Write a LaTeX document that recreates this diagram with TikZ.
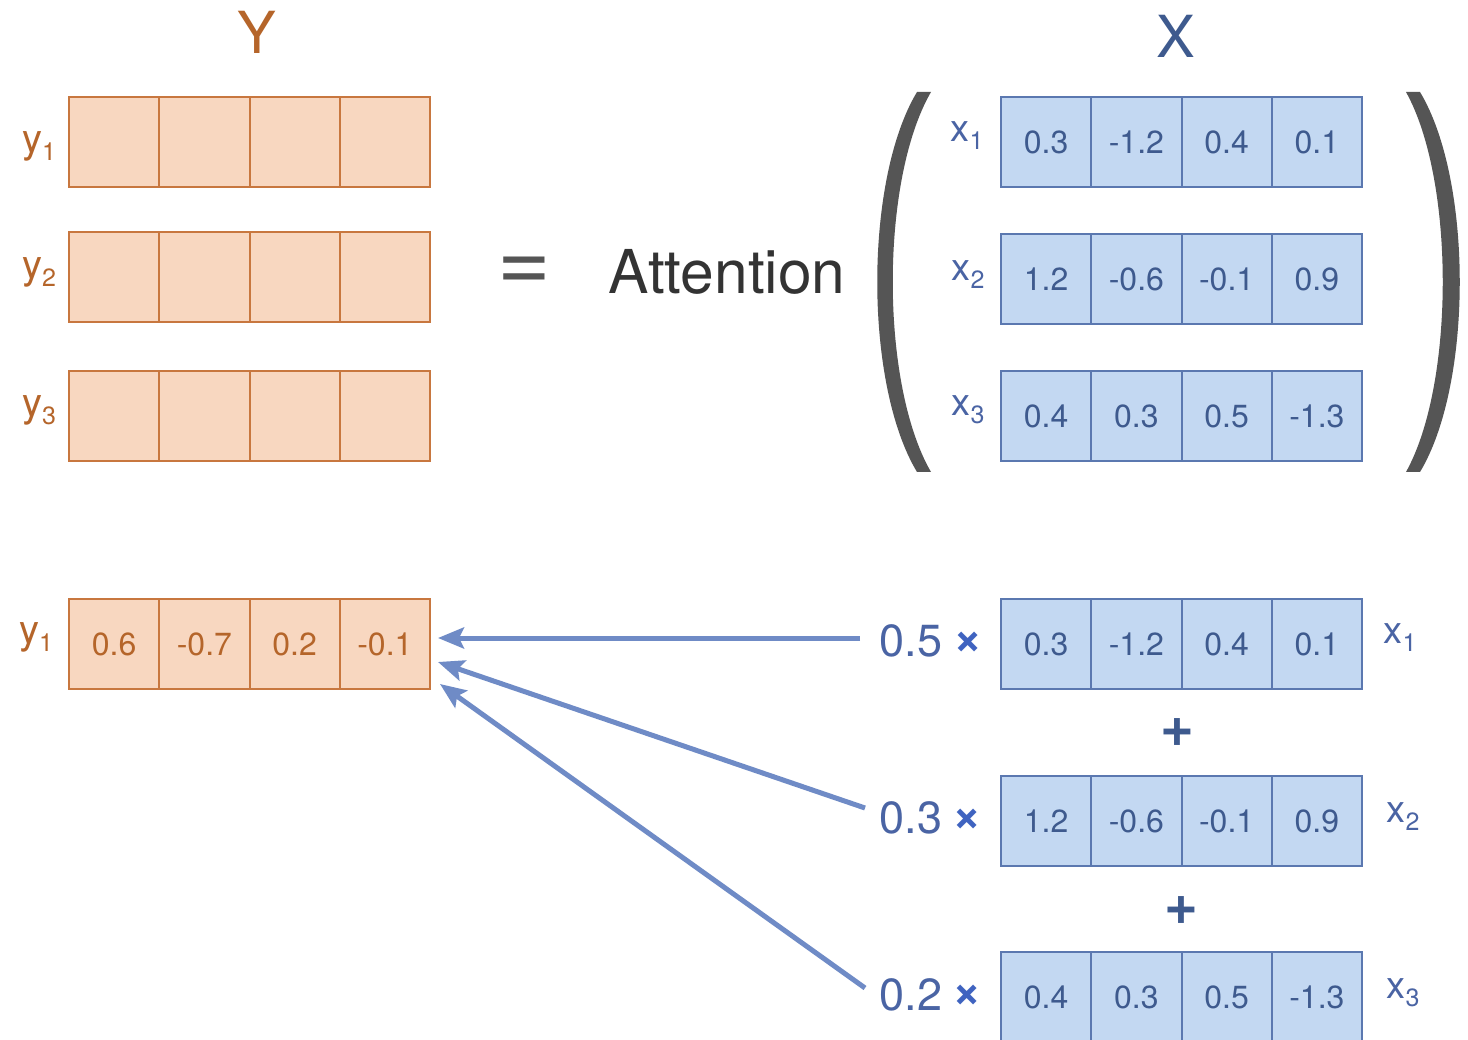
\documentclass[tikz,border=0pt]{standalone}
\usepackage{fontspec}
\setmainfont{TeX Gyre Heros}
\usetikzlibrary{arrows.meta,calc}
\definecolor{ofill}{HTML}{F8D7C0}
\definecolor{oline}{HTML}{C8773F}
\definecolor{otext}{HTML}{B5652A}
\definecolor{bfill}{HTML}{C3D8F2}
\definecolor{bline}{HTML}{5B78B0}
\definecolor{btext}{HTML}{3E5A8E}
\definecolor{blab}{HTML}{4A64A4}
\definecolor{arrowc}{HTML}{6F8BC6}
\definecolor{parc}{HTML}{555555}
\definecolor{timesc}{HTML}{3F63C0}
\newcommand\lsub[1]{\raisebox{-8pt}{\fontsize{25}{25}\selectfont #1}}
\begin{document}
\begin{tikzpicture}[x=1pt,y=-1pt,
  cellbase/.style={line width=2pt,minimum width=90.25pt,minimum height=90pt,inner sep=0pt,anchor=north west,font=\fontsize{32}{36}\selectfont},
  ocell/.style={cellbase,draw=oline,fill=ofill,text=otext},
  bcell/.style={cellbase,draw=bline,fill=bfill,text=btext},
  ylab/.style={text=otext,font=\fontsize{40}{44}\selectfont,inner sep=0pt},
  xlab/.style={text=blab,font=\fontsize{38}{44}\selectfont,inner sep=0pt},
  title/.style={font=\fontsize{58}{60}\selectfont,inner sep=0pt},
  coef/.style={text=blab,font=\fontsize{45}{50}\selectfont,inner sep=0pt},
  timesn/.style={text=timesc,font=\bfseries\fontsize{50}{50}\selectfont,inner sep=0pt},
  plusn/.style={text=btext,font=\bfseries\fontsize{58}{58}\selectfont,inner sep=0pt},
  arr/.style={draw=arrowc,line width=5pt,-{Stealth[length=26pt,width=21pt,inset=5pt]}},
  parfill/.style={fill=parc,draw=none}
]
\useasboundingbox (0,0) rectangle (1468,1040);
\fill[white] (0,0) rectangle (1468,1040);

% titles
\node[title,text=otext] (Yt) at (257,32) {Y};
\node[title,text=btext] (Xt) at (1176,36) {X};

% top Y rows
\foreach \r/\yy in {1/96,2/231,3/370}{
  \foreach \c in {1,...,4}{
    \node[ocell] (yr\r c\c) at ({68+(\c-1)*90.25},\yy) {};
  }
}
\node[ylab] (ly1) at (39,146) {y\lsub{1}};
\node[ylab] (ly2) at (39,272) {y\lsub{2}};
\node[ylab] (ly3) at (39,410) {y\lsub{3}};

% equals and Attention
\node[text=parc,font=\fontsize{92}{92}\selectfont,inner sep=0pt] (eq) at (524,274) {=};
\node[text=black!80,font=\fontsize{60.5}{66}\selectfont,inner sep=0pt] (att) at (727,272) {Attention};

% parentheses
\path[parfill] (917,92) .. controls (864,180) and (864,384) .. (917,472) -- (931,472) .. controls (880,384) and (880,180) .. (931,92) -- cycle;
\path[parfill] (1420,92) .. controls (1473,180) and (1473,384) .. (1420,472) -- (1406,472) .. controls (1455,384) and (1455,180) .. (1406,92) -- cycle;

% top X rows
\foreach \r/\yy/\va/\vb/\vc/\vd in {1/96/0.3/-1.2/0.4/0.1, 2/233/1.2/-0.6/-0.1/0.9, 3/370/0.4/0.3/0.5/-1.3}{
  \node[bcell] (xr\r c1) at (1000,\yy) {\va};
  \node[bcell] (xr\r c2) at (1090.25,\yy) {\vb};
  \node[bcell] (xr\r c3) at (1180.5,\yy) {\vc};
  \node[bcell] (xr\r c4) at (1270.75,\yy) {\vd};
}
\node[xlab] (lx1) at (967,136) {x\lsub{1}};
\node[xlab] (lx2) at (968,275) {x\lsub{2}};
\node[xlab] (lx3) at (968,410) {x\lsub{3}};

% bottom y1 row
\foreach \c/\v in {1/0.6,2/-0.7,3/0.2,4/-0.1}{
  \node[ocell] (b\c) at ({68+(\c-1)*90.25},598) {\v};
}
\node[ylab] (lb) at (36,637) {y\lsub{1}};

% bottom X rows
\foreach \r/\yy/\va/\vb/\vc/\vd in {1/598/0.3/-1.2/0.4/0.1, 2/775/1.2/-0.6/-0.1/0.9, 3/951/0.4/0.3/0.5/-1.3}{
  \node[bcell] (br\r c1) at (1000,\yy) {\va};
  \node[bcell] (br\r c2) at (1090.25,\yy) {\vb};
  \node[bcell] (br\r c3) at (1180.5,\yy) {\vc};
  \node[bcell] (br\r c4) at (1270.75,\yy) {\vd};
}
\node[xlab] (rx1) at (1400,638) {x\lsub{1}};
\node[xlab] (rx2) at (1403,817) {x\lsub{2}};
\node[xlab] (rx3) at (1403,993) {x\lsub{3}};

\node[plusn] (p1) at (1177,733) {+};
\node[plusn] (p2) at (1181,911) {+};

% coefficients
\node[coef] (k1) at (911,641) {0.5};
\node[coef] (k2) at (911,818) {0.3};
\node[coef] (k3) at (911,995) {0.2};
\node[timesn] (t1) at (968,643) {×};
\node[timesn] (t2) at (967,820) {×};
\node[timesn] (t3) at (967,996) {×};

% arrows
\coordinate (s1) at (860,638);
\coordinate (s2) at (865,808);
\coordinate (s3) at (865,988);
\coordinate (e1) at (438,638);
\coordinate (e2) at (438,662);
\coordinate (e3) at (440,684);
\draw[arr] (s1) -- (e1);
\draw[arr] (s2) -- (e2);
\draw[arr] (s3) -- (e3);
\end{tikzpicture}
\end{document}
